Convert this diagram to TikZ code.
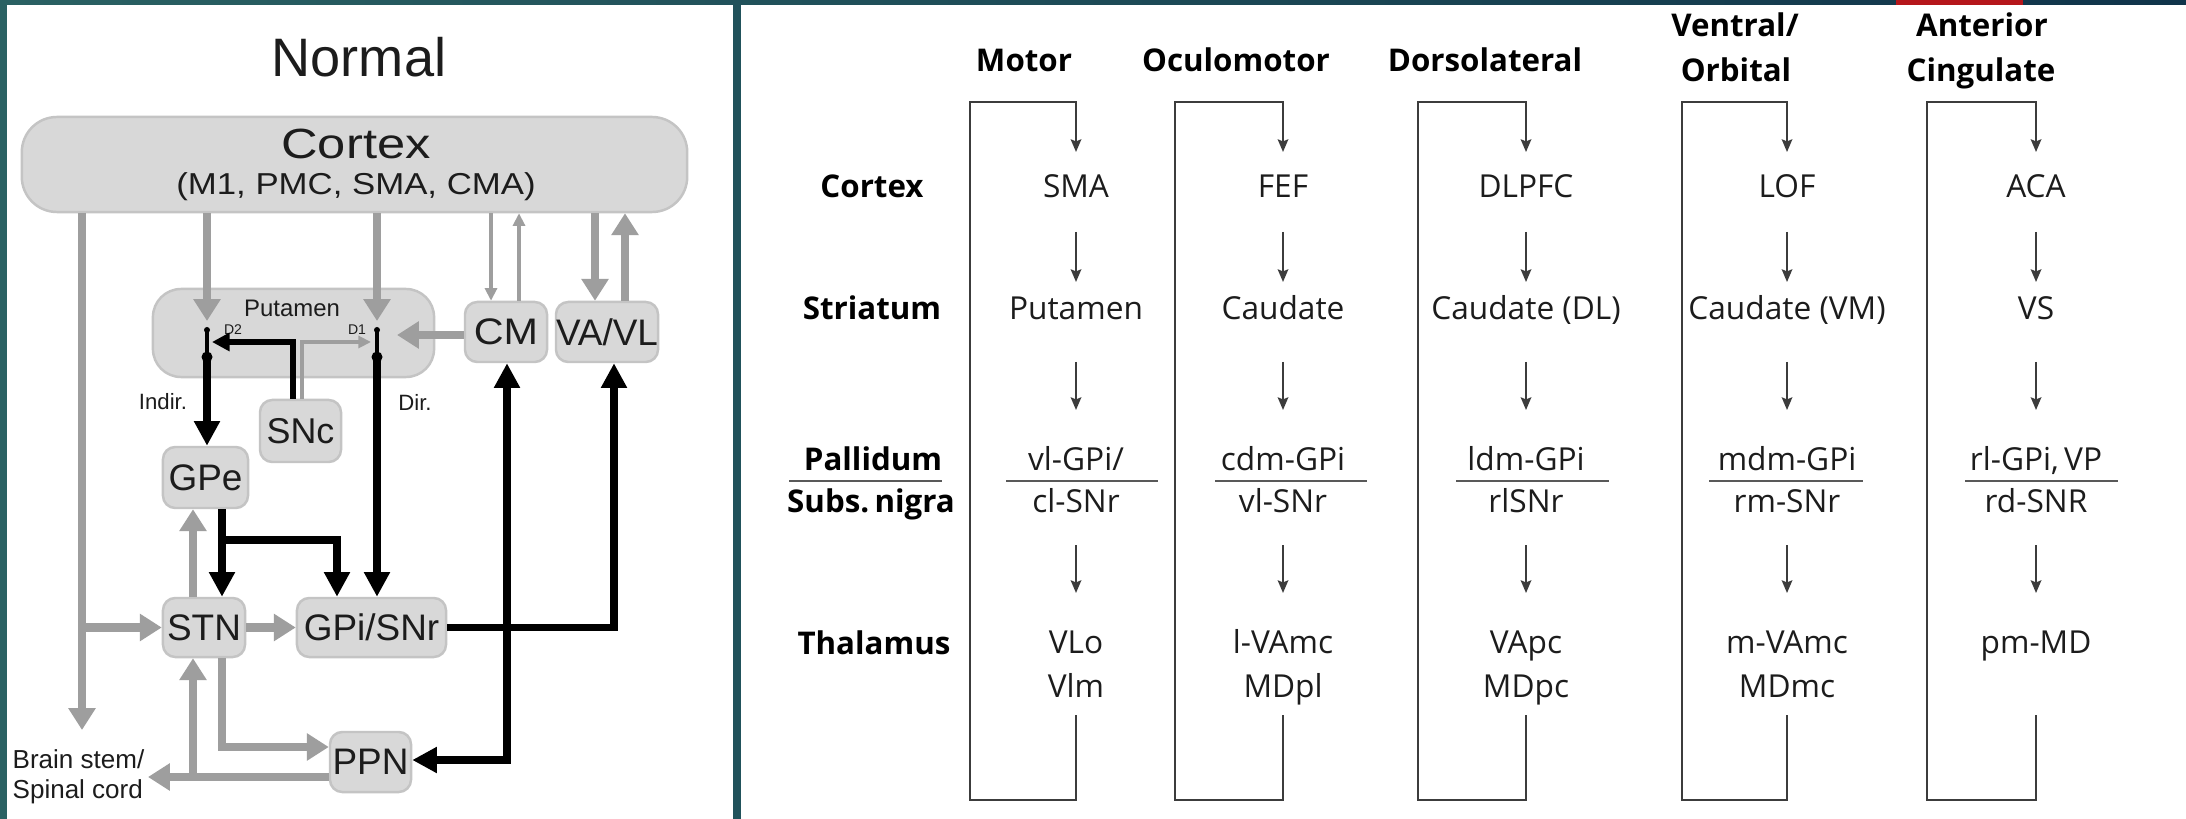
\documentclass[tikz,border=0pt]{standalone}
\usepackage{fontspec}
\usepackage{graphicx}
\setmainfont{Liberation Sans}
\newfontfamily\osans{Open Sans}
\usetikzlibrary{arrows.meta,calc}
\definecolor{boxfill}{HTML}{D8D8D8}
\definecolor{boxline}{HTML}{C4C4C4}
\definecolor{garrow}{HTML}{9E9E9E}
\definecolor{ink}{HTML}{1C1C1C}
\definecolor{frameL}{HTML}{2A6163}
\definecolor{frameR}{HTML}{10344A}
\definecolor{redbit}{HTML}{B5161B}
\definecolor{rcol}{HTML}{3C3C3C}
\begin{document}
\begin{tikzpicture}[x=0.01cm,y=-0.01cm,
  box/.style={rectangle, rounded corners=3.5pt, fill=boxfill, draw=boxline, line width=0.7pt, inner sep=0pt, text=ink, font=\fontsize{10.5}{12}\selectfont},
  lbl/.style={inner sep=0pt, text=ink},
  garr/.style={draw=garrow, line width=2.3pt, -{Triangle[width=7.4pt,length=6.2pt]}},
  gthin/.style={draw=garrow, line width=0.9pt, -{Triangle[width=3.4pt,length=3.6pt]}},
  barr/.style={draw=black, line width=2pt, -{Triangle[width=7pt,length=7pt]}},
  bthin/.style={draw=black, line width=1.5pt, -{Triangle[width=5pt,length=5pt]}},
  rtxt/.style={inner sep=0pt, anchor=base, text=ink, font=\osans\fontsize{9}{10}\selectfont},
  rhead/.style={inner sep=0pt, anchor=base, text=black, font=\osans\bfseries\fontsize{8.9}{10}\selectfont},
  rarr/.style={draw=rcol, line width=0.6pt, -{Stealth[length=3.6pt,width=3pt,inset=0.6pt]}},
  rrule/.style={draw=rcol!85, line width=0.85pt}
]
% ---------- frame ----------
\useasboundingbox (0,0) rectangle (2186,819);
\shade[left color=frameL, right color=frameR] (0,0) rectangle (2186,819);
\fill[redbit] (1896,0) rectangle (2023,5);
\fill[white] (7,5) rectangle (733,819);
\fill[white] (741,5) rectangle (2186,819);

% ---------- left panel ----------
\node[lbl, font=\fontsize{15.4}{18}\selectfont] (title) at (359,57) {Normal};
\node[box, minimum width=6.65cm, minimum height=0.95cm, rounded corners=10pt] (cortex) at (354.5,164.5) {};
\node[lbl, font=\fontsize{12}{14}\selectfont] (cortexname) at (356,144) {\scalebox{1.2}[1]{Cortex}};
\node[lbl, font=\fontsize{8.6}{10}\selectfont] (cortexsub) at (356,187) {\scalebox{1.15}[1]{(M1, PMC, SMA, CMA)}};

\node[box, minimum width=2.81cm, minimum height=0.88cm, rounded corners=8pt] (put) at (293.5,333) {};
\node[lbl, font=\fontsize{6.8}{8}\selectfont] (putname) at (292,308) {Putamen};
\node[lbl, font=\fontsize{4}{5}\selectfont] (dtwo) at (233,330) {D2};
\node[lbl, font=\fontsize{4}{5}\selectfont] (done) at (357,330) {D1};

\node[box, minimum width=0.82cm, minimum height=0.6cm] (cm) at (506,332) {\scalebox{1.12}[1]{CM}};
\node[box, minimum width=1.02cm, minimum height=0.6cm] (vavl) at (607,332) {VA/VL};
\node[box, minimum width=0.81cm, minimum height=0.62cm, font=\fontsize{10.2}{12}\selectfont] (snc) at (300.5,431) {SNc};
\node[box, minimum width=0.85cm, minimum height=0.61cm] (gpe) at (205.5,477.5) {GPe};
\node[box, minimum width=0.82cm, minimum height=0.59cm] (stn) at (204,627.5) {STN};
\node[box, minimum width=1.49cm, minimum height=0.59cm] (gpi) at (371.5,627.5) {GPi/SNr};
\node[box, minimum width=0.81cm, minimum height=0.6cm] (ppn) at (370.5,762) {PPN};

\node[lbl, font=\fontsize{6.3}{7.5}\selectfont] (indir) at (163,402) {Indir.};
\node[lbl, font=\fontsize{6.3}{7.5}\selectfont] (dir) at (415,402) {Dir.};
\node[lbl, font=\fontsize{7.4}{8.6}\selectfont, align=left, anchor=west] (brain) at (12,777) {Brain stem/\\Spinal cord};

\coordinate (dtwotop) at (207,330);
\coordinate (dtwomid) at (207,357);
\coordinate (donetop) at (377,330);
\coordinate (donemid) at (377,357);
\coordinate (bstip) at (82,730);
\coordinate (upx) at (193,0);
\coordinate (gxl) at (193,777);
\coordinate (gxr) at (222,747);
\coordinate (cmtip) at (397,335);
\coordinate (vdn) at (595,0);
\coordinate (vup) at (625,0);
\coordinate (cdn) at (491,0);
\coordinate (cup) at (519,0);
\coordinate (sncg) at (302,342);
\coordinate (sncb) at (293,342);
\coordinate (gpeout) at (222,540);
\coordinate (gpibr) at (337,540);
\coordinate (vvx) at (614,0);
\coordinate (cmx) at (507,0);
\coordinate (ppnc) at (507,760);

% gray projections
\draw[garr] (cortex.south -| dtwotop) -- ($(dtwotop)+(0,-9)$);
\draw[garr] (cortex.south -| donetop) -- ($(donetop)+(0,-9)$);
\draw[garr] (cortex.south -| bstip) -- (bstip);
\draw[garr] (stn.west -| bstip) -- (stn.west);
\draw[garr] (stn.east) -- (gpi.west);
\draw[garr] (stn.north -| upx) -- (gpe.south -| upx);
\draw[garr] (stn.south -| gxr) -- (gxr) -- (gxr -| ppn.west);
\draw[garr] (ppn.west |- gxl) -- ($(brain.east |- gxl)+(3,0)$);
\draw[garr] (gxl) -- (stn.south -| gxl);
\draw[garr] (cm.west |- cmtip) -- (cmtip);
\draw[garr] (cortex.south -| vdn) -- (vavl.north -| vdn);
\draw[garr] (vavl.north -| vup) -- (cortex.south -| vup);
\draw[gthin] (cortex.south -| cdn) -- (cm.north -| cdn);
\draw[gthin] (cm.north -| cup) -- (cortex.south -| cup);
\draw[gthin] (snc.north -| sncg) -- (sncg) -- ($(donetop |- sncg)+(-6,0)$);

% black projections
\draw[bthin] (snc.north -| sncb) -- (sncb) -- ($(dtwotop |- sncb)+(5,0)$);
\draw[black, line width=1pt] (dtwotop) -- (dtwomid);
\draw[black, line width=1pt] (donetop) -- (donemid);
\fill (dtwotop) circle[radius=3];
\fill (donetop) circle[radius=3];
\fill (dtwomid) circle[radius=5.5];
\fill (donemid) circle[radius=5.5];
\draw[barr] (dtwomid) -- (gpe.north -| dtwomid);
\draw[barr] (donemid) -- (gpi.north -| donemid);
\draw[barr] (gpe.south -| gpeout) -- (stn.north -| gpeout);
\draw[barr] (gpeout) -- (gpibr) -- (gpi.north -| gpibr);
\draw[barr] (gpi.east) -- (gpi.east -| vvx) -- (vavl.south -| vvx);
\draw[barr] (gpi.east -| cmx) -- (cm.south -| cmx);
\draw[barr] (gpi.east -| cmx) -- (ppnc) -- (ppn.east |- ppnc);

% ---------- right panel ----------
\node[rhead] (hmotor) at (1024,72) {Motor};
\node[rhead] (hocul) at (1236,72) {Oculomotor};
\node[rhead] (hdorso) at (1485,72) {Dorsolateral};
\node[rhead] (hventA) at (1735,37) {Ventral/};
\node[rhead] (hventB) at (1736,82) {Orbital};
\node[rhead] (hantA) at (1982,37) {Anterior};
\node[rhead] (hantB) at (1981,82) {Cingulate};

\node[rhead] (lcortex) at (872,198) {Cortex};
\node[rhead] (lstri) at (872,320) {Striatum};
\node[rhead] (lpall) at (873,471) {Pallidum};
\node[rhead] (lsubs) at (871,513) {Subs.\,nigra};
\node[rhead] (lthal) at (874,654) {Thalamus};
\draw[rrule] (789,481) -- (942,481);

% column 1: motor
\node[rtxt] (ctx1) at (1076,198) {SMA};
\node[rtxt] (str1) at (1076,320) {Putamen};
\node[rtxt] (pal1) at (1076,471) {vl-GPi/};
\node[rtxt] (sub1) at (1076,513) {cl-SNr};
\node[rtxt] (tha1) at (1076,653) {VLo};
\node[rtxt] (thb1) at (1076,697) {Vlm};
% column 2: oculomotor
\node[rtxt] (ctx2) at (1283,198) {FEF};
\node[rtxt] (str2) at (1283,320) {Caudate};
\node[rtxt] (pal2) at (1283,471) {cdm-GPi};
\node[rtxt] (sub2) at (1283,513) {vl-SNr};
\node[rtxt] (tha2) at (1283,653) {l-VAmc};
\node[rtxt] (thb2) at (1283,697) {MDpl};
% column 3: dorsolateral
\node[rtxt] (ctx3) at (1526,198) {DLPFC};
\node[rtxt] (str3) at (1526,320) {Caudate (DL)};
\node[rtxt] (pal3) at (1526,471) {ldm-GPi};
\node[rtxt] (sub3) at (1526,513) {rlSNr};
\node[rtxt] (tha3) at (1526,653) {VApc};
\node[rtxt] (thb3) at (1526,697) {MDpc};
% column 4: ventral / orbital
\node[rtxt] (ctx4) at (1787,198) {LOF};
\node[rtxt] (str4) at (1787,320) {Caudate (VM)};
\node[rtxt] (pal4) at (1787,471) {mdm-GPi};
\node[rtxt] (sub4) at (1787,513) {rm-SNr};
\node[rtxt] (tha4) at (1787,653) {m-VAmc};
\node[rtxt] (thb4) at (1787,697) {MDmc};
% column 5: anterior cingulate
\node[rtxt] (ctx5) at (2036,198) {ACA};
\node[rtxt] (str5) at (2036,320) {VS};
\node[rtxt] (pal5) at (2036,471) {rl-GPi,\,VP};
\node[rtxt] (sub5) at (2036,513) {rd-SNR};
\node[rtxt] (tha5) at (2036,653) {pm-MD};

\foreach \i/\l/\ra/\rb in {1/970/-70/82, 2/1175/-68/84, 3/1418/-70/83, 4/1682/-78/76, 5/1927/-71/82} {
  \coordinate (bot\i) at ($(tha\i.base)+(0,62)$);
  \coordinate (cnr\i) at (\l,800);
  \coordinate (top\i) at (\l,102);
  \draw[rarr] (bot\i) -- (bot\i |- cnr\i) -- (cnr\i) -- (top\i) -- (top\i -| ctx\i.base) -- ($(ctx\i.base)+(0,-46)$);
  \draw[rarr] ($(ctx\i.base)+(0,34)$) -- ($(str\i.base)+(0,-38)$);
  \draw[rarr] ($(str\i.base)+(0,42)$) -- ($(pal\i.base)+(0,-61)$);
  \draw[rarr] ($(sub\i.base)+(0,32)$) -- ($(tha\i.base)+(0,-60)$);
  \draw[rrule] ($(pal\i.base)+(\ra,10)$) -- ($(pal\i.base)+(\rb,10)$);
}
\end{tikzpicture}
\end{document}
